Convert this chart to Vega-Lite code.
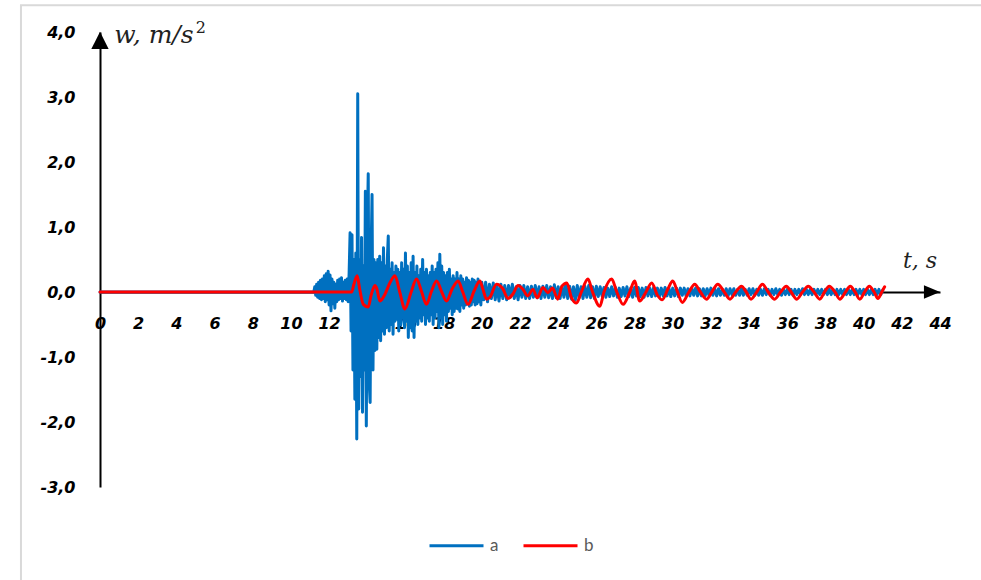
{
"$schema": "https://vega.github.io/schema/vega-lite/v6.json",
"width": 840, "height": 455,
"autosize": {"type": "none"},
"padding": {"left": 100, "top": 32, "right": 41, "bottom": 93},
"background": "white",
"config": {"view": {"stroke": null},
 "axis": {"grid": false, "ticks": false, "tickSize": 0, "labelFlush": false, "labelFont": "DejaVu Sans", "labelFontSize": 16, "labelFontWeight": "bold", "labelFontStyle": "italic", "labelColor": "#000000", "domainColor": "#000000", "domainWidth": 2}},
"data": {"values": [{}]},
"datasets": {
"a": [
{"t":0,"w":0},{"t":11.2,"w":0},{"t":11.25,"w":0.08},{"t":11.3,"w":-0.05},{"t":11.35,"w":0.12},{"t":11.4,"w":-0.08},{"t":11.45,"w":0.15},{"t":11.5,"w":-0.1},{"t":11.55,"w":0.18},{"t":11.6,"w":-0.12},{"t":11.65,"w":0.2},{"t":11.7,"w":-0.1},{"t":11.75,"w":0.25},{"t":11.8,"w":-0.15},{"t":11.85,"w":0.28},{"t":11.9,"w":-0.12},{"t":11.95,"w":0.32},{"t":12.0,"w":-0.2},{"t":12.05,"w":0.26},{"t":12.1,"w":-0.29},{"t":12.15,"w":0.2},{"t":12.2,"w":-0.18},{"t":12.25,"w":0.15},{"t":12.3,"w":-0.25},{"t":12.35,"w":0.12},{"t":12.4,"w":-0.15},{"t":12.45,"w":0.18},{"t":12.5,"w":-0.12},{"t":12.55,"w":0.2},{"t":12.6,"w":-0.1},{"t":12.65,"w":0.22},{"t":12.7,"w":-0.14},{"t":12.75,"w":0.15},{"t":12.8,"w":-0.1},{"t":12.85,"w":0.18},{"t":12.9,"w":-0.12},{"t":12.95,"w":0.2},{"t":13.0,"w":-0.15},{"t":13.05,"w":0.3},
{"t":13.1,"w":0.91},{"t":13.15,"w":-0.6},{"t":13.2,"w":0.88},{"t":13.25,"w":-1.2},{"t":13.3,"w":0.5},{"t":13.35,"w":-1.65},{"t":13.4,"w":0.6},{"t":13.45,"w":-2.26},{"t":13.5,"w":3.05},{"t":13.55,"w":-1.8},{"t":13.6,"w":0.5},{"t":13.65,"w":-1.3},{"t":13.7,"w":0.84},{"t":13.75,"w":-1.85},{"t":13.8,"w":0.4},{"t":13.85,"w":-1.2},{"t":13.9,"w":1.55},{"t":13.95,"w":-2.06},{"t":14.0,"w":0.9},{"t":14.05,"w":1.82},{"t":14.1,"w":-1.4},{"t":14.15,"w":-1.7},{"t":14.2,"w":0.6},{"t":14.25,"w":1.5},{"t":14.3,"w":-1.2},{"t":14.35,"w":0.5},{"t":14.4,"w":-0.9},{"t":14.45,"w":0.45},{"t":14.5,"w":-0.88},{"t":14.55,"w":0.5},{"t":14.6,"w":-0.7},{"t":14.65,"w":0.55},{"t":14.7,"w":-0.75},{"t":14.75,"w":0.45},{"t":14.8,"w":-0.6},{"t":14.85,"w":0.68},{"t":14.9,"w":-0.65},{"t":14.95,"w":0.4},{"t":15.0,"w":-0.55},{"t":15.05,"w":0.5},{"t":15.1,"w":0.86},{"t":15.15,"w":-0.6},{"t":15.2,"w":0.35},{"t":15.25,"w":-0.5},{"t":15.3,"w":0.45},{"t":15.35,"w":-0.65},{"t":15.4,"w":0.3},{"t":15.45,"w":-0.45},{"t":15.5,"w":0.4},{"t":15.55,"w":-0.42},{"t":15.6,"w":0.35},{"t":15.65,"w":-0.6},{"t":15.7,"w":0.3},{"t":15.75,"w":-0.5},{"t":15.8,"w":0.45},{"t":15.85,"w":-0.4},{"t":15.9,"w":0.35},{"t":15.95,"w":-0.55},{"t":16.0,"w":0.6},{"t":16.05,"w":-0.45},{"t":16.1,"w":0.4},{"t":16.15,"w":-0.7},{"t":16.2,"w":0.3},{"t":16.25,"w":-0.55},{"t":16.3,"w":0.45},{"t":16.35,"w":-0.6},{"t":16.4,"w":0.55},{"t":16.45,"w":-0.7},{"t":16.5,"w":0.3},{"t":16.55,"w":-0.45},{"t":16.6,"w":0.4},{"t":16.65,"w":-0.5},{"t":16.7,"w":0.25},{"t":16.75,"w":-0.4},{"t":16.8,"w":0.35},{"t":16.85,"w":-0.45},{"t":16.9,"w":0.5},{"t":16.95,"w":-0.35},{"t":17.0,"w":0.3},{"t":17.05,"w":-0.5},{"t":17.1,"w":0.35},{"t":17.15,"w":-0.4},{"t":17.2,"w":0.25},{"t":17.25,"w":-0.45},{"t":17.3,"w":0.3},{"t":17.35,"w":-0.35},{"t":17.4,"w":0.4},{"t":17.45,"w":-0.5},{"t":17.5,"w":0.3},{"t":17.55,"w":-0.4},{"t":17.6,"w":0.35},{"t":17.65,"w":-0.3},{"t":17.7,"w":0.45},{"t":17.75,"w":-0.55},{"t":17.8,"w":0.58},{"t":17.85,"w":-0.4},{"t":17.9,"w":0.4},{"t":17.95,"w":-0.5},{"t":18.0,"w":0.3},{"t":18.05,"w":-0.35},{"t":18.1,"w":0.25},{"t":18.15,"w":-0.45},{"t":18.2,"w":0.3},{"t":18.25,"w":-0.3},{"t":18.3,"w":0.35},{"t":18.35,"w":-0.25},{"t":18.4,"w":0.2},{"t":18.45,"w":-0.35},{"t":18.5,"w":0.25},{"t":18.55,"w":-0.3},{"t":18.6,"w":0.2},{"t":18.65,"w":-0.25},{"t":18.7,"w":0.3},{"t":18.75,"w":-0.26},{"t":18.8,"w":0.2},{"t":18.85,"w":-0.3},{"t":18.9,"w":0.25},{"t":18.95,"w":-0.2},{"t":19.0,"w":0.2},{"t":19.05,"w":-0.25},{"t":19.1,"w":0.15},{"t":19.15,"w":-0.2},{"t":19.2,"w":0.22},{"t":19.25,"w":-0.18},{"t":19.3,"w":0.18},{"t":19.35,"w":-0.22},{"t":19.4,"w":0.15},{"t":19.45,"w":-0.2},{"t":19.5,"w":0.2},{"t":19.55,"w":-0.15},{"t":19.6,"w":0.18},{"t":19.65,"w":-0.2},{"t":19.7,"w":0.15},{"t":19.75,"w":-0.18},{"t":19.8,"w":0.2},{"t":19.85,"w":-0.15},{"t":19.9,"w":0.12},{"t":19.95,"w":-0.2},{"t":20.0,"w":0.15},
{"t":20.1,"w":-0.12},{"t":20.2,"w":0.15},{"t":20.3,"w":-0.15},{"t":20.4,"w":0.12},{"t":20.5,"w":-0.1},{"t":20.6,"w":0.14},{"t":20.7,"w":-0.12},{"t":20.8,"w":0.1},{"t":20.9,"w":-0.14},{"t":21.0,"w":0.12},{"t":21.1,"w":-0.1},{"t":21.2,"w":0.1},{"t":21.3,"w":-0.12},{"t":21.4,"w":0.1},{"t":21.5,"w":-0.08},{"t":21.6,"w":0.12},{"t":21.7,"w":-0.1},{"t":21.8,"w":0.08},{"t":21.9,"w":-0.12},{"t":22.0,"w":0.1},{"t":22.1,"w":-0.08},{"t":22.2,"w":0.1},{"t":22.3,"w":-0.1},{"t":22.4,"w":0.08},{"t":22.5,"w":-0.1},{"t":22.6,"w":0.09},{"t":22.7,"w":-0.08},{"t":22.8,"w":0.1},{"t":22.9,"w":-0.09},{"t":23.0,"w":0.08},{"t":23.1,"w":-0.1},{"t":23.2,"w":0.09},{"t":23.3,"w":-0.08},{"t":23.4,"w":0.1},{"t":23.5,"w":-0.09},{"t":23.6,"w":0.08},{"t":23.7,"w":-0.1},{"t":23.8,"w":0.11},{"t":23.9,"w":-0.09},{"t":24.0,"w":0.08},{"t":24.1,"w":-0.1},{"t":24.2,"w":0.09},{"t":24.3,"w":-0.08},{"t":24.4,"w":0.12},{"t":24.5,"w":-0.1},{"t":24.6,"w":0.09},{"t":24.7,"w":-0.11},{"t":24.8,"w":0.08},{"t":24.9,"w":-0.12},{"t":25.0,"w":0.1},{"t":25.1,"w":-0.09},{"t":25.2,"w":0.08},{"t":25.3,"w":-0.1},{"t":25.4,"w":0.09},{"t":25.5,"w":-0.08},{"t":25.6,"w":0.1},{"t":25.7,"w":-0.09},{"t":25.8,"w":0.08},{"t":25.9,"w":-0.1},{"t":26.0,"w":0.09},
{"t":26.1,"w":-0.07},{"t":26.2,"w":0.08},{"t":26.3,"w":-0.06},{"t":26.4,"w":0.07},{"t":26.5,"w":-0.08},{"t":26.6,"w":0.06},{"t":26.7,"w":-0.07},{"t":26.8,"w":0.08},{"t":26.9,"w":-0.06},{"t":27.0,"w":0.07},{"t":27.1,"w":-0.08},{"t":27.2,"w":0.06},{"t":27.3,"w":-0.07},{"t":27.4,"w":0.07},{"t":27.5,"w":-0.06},{"t":27.6,"w":0.08},{"t":27.7,"w":-0.07},{"t":27.8,"w":0.06},{"t":27.9,"w":-0.08},{"t":28.0,"w":0.07},{"t":28.1,"w":-0.06},{"t":28.2,"w":0.07},{"t":28.3,"w":-0.07},{"t":28.4,"w":0.06},{"t":28.5,"w":-0.08},{"t":28.6,"w":0.07},{"t":28.7,"w":-0.06},{"t":28.8,"w":0.06},{"t":28.9,"w":-0.07},{"t":29.0,"w":0.07},{"t":29.1,"w":-0.06},{"t":29.2,"w":0.06},{"t":29.3,"w":-0.07},{"t":29.4,"w":0.06},{"t":29.5,"w":-0.06},{"t":29.6,"w":0.07},{"t":29.7,"w":-0.06},{"t":29.8,"w":0.06},{"t":29.9,"w":-0.07},{"t":30.0,"w":0.06},{"t":30.1,"w":-0.06},{"t":30.2,"w":0.06},{"t":30.3,"w":-0.07},{"t":30.4,"w":0.06},{"t":30.5,"w":-0.05},{"t":30.6,"w":0.06},{"t":30.7,"w":-0.06},{"t":30.8,"w":0.05},{"t":30.9,"w":-0.06},{"t":31.0,"w":0.06},{"t":31.1,"w":-0.05},{"t":31.2,"w":0.06},{"t":31.3,"w":-0.06},{"t":31.4,"w":0.05},{"t":31.5,"w":-0.06},{"t":31.6,"w":0.05},{"t":31.7,"w":-0.06},{"t":31.8,"w":0.05},{"t":31.9,"w":-0.05},{"t":32.0,"w":0.06},
{"t":32.1,"w":-0.05},{"t":32.2,"w":0.05},{"t":32.3,"w":-0.06},{"t":32.4,"w":0.05},{"t":32.5,"w":-0.05},{"t":32.6,"w":0.04},{"t":32.7,"w":-0.05},{"t":32.8,"w":0.05},{"t":32.9,"w":-0.06},{"t":33.0,"w":0.05},{"t":33.1,"w":-0.04},{"t":33.2,"w":0.05},{"t":33.3,"w":-0.05},{"t":33.4,"w":0.04},{"t":33.5,"w":-0.05},{"t":33.6,"w":0.05},{"t":33.7,"w":-0.05},{"t":33.8,"w":0.04},{"t":33.9,"w":-0.05},{"t":34.0,"w":0.05},{"t":34.1,"w":-0.04},{"t":34.2,"w":0.05},{"t":34.3,"w":-0.05},{"t":34.4,"w":0.04},{"t":34.5,"w":-0.05},{"t":34.6,"w":0.04},{"t":34.7,"w":-0.05},{"t":34.8,"w":0.05},{"t":34.9,"w":-0.04},{"t":35.0,"w":0.04},{"t":35.1,"w":-0.05},{"t":35.2,"w":0.04},{"t":35.3,"w":-0.04},{"t":35.4,"w":0.05},{"t":35.5,"w":-0.04},{"t":35.6,"w":0.04},{"t":35.7,"w":-0.05},{"t":35.8,"w":0.04},{"t":35.9,"w":-0.04},{"t":36.0,"w":0.04},{"t":36.1,"w":-0.04},{"t":36.2,"w":0.04},{"t":36.3,"w":-0.05},{"t":36.4,"w":0.04},{"t":36.5,"w":-0.04},{"t":36.6,"w":0.04},{"t":36.7,"w":-0.04},{"t":36.8,"w":0.05},{"t":36.9,"w":-0.04},{"t":37.0,"w":0.04},{"t":37.1,"w":-0.04},{"t":37.2,"w":0.04},{"t":37.3,"w":-0.04},{"t":37.4,"w":0.04},{"t":37.5,"w":-0.04},{"t":37.6,"w":0.04},{"t":37.7,"w":-0.04},{"t":37.8,"w":0.04},{"t":37.9,"w":-0.04},{"t":38.0,"w":0.04},{"t":38.1,"w":-0.04},{"t":38.2,"w":0.04},{"t":38.3,"w":-0.04},{"t":38.4,"w":0.04},{"t":38.5,"w":-0.04},{"t":38.6,"w":0.04},{"t":38.7,"w":-0.04},{"t":38.8,"w":0.04},{"t":38.9,"w":-0.04},{"t":39.0,"w":0.04},{"t":39.1,"w":-0.04},{"t":39.2,"w":0.04},{"t":39.3,"w":-0.04},{"t":39.4,"w":0.04},{"t":39.5,"w":-0.04},{"t":39.6,"w":0.04},{"t":39.7,"w":-0.04},{"t":39.8,"w":0.04},{"t":39.9,"w":-0.04},{"t":40.0,"w":0.04},{"t":40.1,"w":-0.04},{"t":40.2,"w":0.04},{"t":40.3,"w":-0.04},{"t":40.4,"w":0.04},{"t":40.5,"w":-0.04},{"t":40.6,"w":0.04},{"t":40.7,"w":-0.04},{"t":40.8,"w":0.04},{"t":40.9,"w":-0.04},{"t":41.0,"w":0.03}
],
"b": [
{"t":0,"w":0},{"t":13.18,"w":0},{"t":13.3,"w":0.12},{"t":13.47,"w":0.25},{"t":13.6,"w":0.05},{"t":13.79,"w":-0.19},{"t":14.05,"w":-0.23},{"t":14.2,"w":-0.05},{"t":14.4,"w":0.1},{"t":14.5,"w":0.05},{"t":14.66,"w":-0.14},{"t":14.9,"w":-0.05},{"t":15.2,"w":0.15},{"t":15.45,"w":0.25},{"t":15.7,"w":0.0},{"t":15.97,"w":-0.26},{"t":16.3,"w":0.0},{"t":16.58,"w":0.2},{"t":16.85,"w":0.0},{"t":17.1,"w":-0.19},{"t":17.35,"w":0.0},{"t":17.63,"w":0.17},{"t":17.9,"w":0.0},{"t":18.15,"w":-0.14},{"t":18.45,"w":0.05},{"t":18.76,"w":0.17},{"t":19.0,"w":0.0},{"t":19.28,"w":-0.19},{"t":19.6,"w":0.02},{"t":19.9,"w":0.17},{"t":20.05,"w":0.05},{"t":20.25,"w":-0.11},{"t":20.42,"w":-0.08},{"t":20.77,"w":0.12},{"t":21.1,"w":0.05},{"t":21.37,"w":-0.1},{"t":21.63,"w":-0.03},{"t":21.9,"w":0.1},{"t":22.16,"w":0.04},{"t":22.4,"w":-0.06},{"t":22.68,"w":0.04},{"t":22.9,"w":-0.09},{"t":23.2,"w":0.07},{"t":23.46,"w":-0.01},{"t":23.7,"w":0.06},{"t":23.98,"w":-0.11},{"t":24.2,"w":0.09},{"t":24.45,"w":0.14},{"t":24.7,"w":-0.09},{"t":24.96,"w":-0.17},{"t":25.2,"w":-0.01},{"t":25.56,"w":0.2},{"t":25.8,"w":0.0},{"t":26.18,"w":-0.22},{"t":26.4,"w":0.0},{"t":26.8,"w":0.2},{"t":27.07,"w":0.0},{"t":27.4,"w":-0.19},{"t":27.75,"w":0.0},{"t":28.0,"w":0.17},{"t":28.27,"w":-0.14},{"t":28.6,"w":0.0},{"t":28.9,"w":0.14},{"t":29.2,"w":-0.05},{"t":29.45,"w":-0.12},{"t":29.75,"w":0.05},{"t":30.0,"w":0.17},{"t":30.25,"w":0.0},{"t":30.5,"w":-0.16},{"t":30.85,"w":0.0},{"t":31.15,"w":0.12},{"t":31.45,"w":0.0},{"t":31.77,"w":-0.11},{"t":32.05,"w":0.0},{"t":32.36,"w":0.12},{"t":32.7,"w":0.0},{"t":33.0,"w":-0.11},{"t":33.3,"w":0.0},{"t":33.6,"w":0.09},{"t":33.85,"w":0.0},{"t":34.1,"w":-0.11},{"t":34.4,"w":0.0},{"t":34.7,"w":0.12},{"t":35.0,"w":0.0},{"t":35.34,"w":-0.11},{"t":35.65,"w":0.0},{"t":35.95,"w":0.09},{"t":36.2,"w":0.0},{"t":36.5,"w":-0.11},{"t":36.8,"w":0.0},{"t":37.1,"w":0.09},{"t":37.4,"w":0.0},{"t":37.7,"w":-0.11},{"t":37.95,"w":0.0},{"t":38.2,"w":0.09},{"t":38.5,"w":0.0},{"t":38.75,"w":-0.11},{"t":39.05,"w":0.0},{"t":39.3,"w":0.09},{"t":39.55,"w":0.0},{"t":39.8,"w":-0.11},{"t":40.05,"w":0.0},{"t":40.3,"w":0.09},{"t":40.55,"w":0.0},{"t":40.75,"w":-0.1},{"t":40.95,"w":0.0},{"t":41.1,"w":0.08}
]
},
"layer": [
{"data": {"name": "a"},
 "mark": {"type": "line", "strokeWidth": 3, "strokeJoin": "round", "strokeCap": "round"},
 "encoding": {
  "x": {"field": "t", "type": "quantitative", "scale": {"domain": [0, 44], "nice": false, "zero": false},
   "axis": {"orient": "bottom", "offset": -195, "values": [0,2,4,6,8,10,12,14,16,18,20,22,24,26,28,30,32,34,36,38,40,42,44], "tickCount": 50, "title": null, "labelPadding": 23, "labelOverlap": false, "labelBound": false}},
  "y": {"field": "w", "type": "quantitative", "scale": {"domain": [-3, 4], "nice": false, "zero": false},
   "axis": {"values": [-3,-2,-1,0,1,2,3,4], "tickCount": 20, "title": null, "labelPadding": 25, "labelExpr": "(datum.value < 0 ? '-' : '') + replace(format(abs(datum.value), '.1f'), '.', ',')"}},
  "color": {"datum": "a", "type": "nominal", "scale": {"domain": ["a", "b"], "range": ["#0070C0", "#FF0000"]},
   "legend": {"orient": "none", "legendX": 328, "legendY": 485, "direction": "horizontal", "title": null, "symbolType": "stroke", "symbolSize": 2916, "symbolStrokeWidth": 3, "labelFont": "Lato", "labelFontSize": 17, "labelColor": "#595959", "labelOffset": 5, "columnPadding": 18}}
 }},
{"data": {"name": "b"},
 "mark": {"type": "line", "strokeWidth": 3, "strokeJoin": "round", "strokeCap": "round", "interpolate": "monotone"},
 "encoding": {
  "x": {"field": "t", "type": "quantitative"},
  "y": {"field": "w", "type": "quantitative"},
  "color": {"datum": "b", "type": "nominal"}
 }},
{"mark": {"type": "rect", "fill": "transparent", "fillOpacity": 0, "stroke": "#d9d9d9", "strokeWidth": 2},
 "encoding": {"x": {"datum": -4.14, "type": "quantitative"}, "x2": {"datum": 46.3}, "y": {"datum": 4.41, "type": "quantitative"}, "y2": {"datum": -4.6}}},
{"mark": {"type": "point", "shape": "M0,-1L-1,1L1,1Z", "filled": true, "color": "#000000", "opacity": 1, "size": 300},
 "encoding": {"x": {"datum": 0, "type": "quantitative"}, "y": {"datum": 3.87, "type": "quantitative"}}},
{"mark": {"type": "point", "shape": "M1,0L-1,-0.85L-1,0.85Z", "filled": true, "color": "#000000", "opacity": 1, "size": 260},
 "encoding": {"x": {"datum": 43.58, "type": "quantitative"}, "y": {"datum": 0, "type": "quantitative"}}},
{"mark": {"type": "text", "text": "w, m/s", "font": "DejaVu Serif", "fontStyle": "italic", "fontSize": 25, "align": "left", "baseline": "alphabetic", "color": "#222222"},
 "encoding": {"x": {"datum": 0.75, "type": "quantitative"}, "y": {"datum": 3.83, "type": "quantitative"}}},
{"mark": {"type": "text", "text": "2", "font": "DejaVu Serif", "fontSize": 16, "align": "left", "baseline": "alphabetic", "color": "#222222"},
 "encoding": {"x": {"datum": 5.02, "type": "quantitative"}, "y": {"datum": 3.98, "type": "quantitative"}}},
{"mark": {"type": "text", "text": "t, s", "font": "DejaVu Serif", "fontStyle": "italic", "fontSize": 22, "align": "left", "baseline": "alphabetic", "color": "#222222"},
 "encoding": {"x": {"datum": 42.06, "type": "quantitative"}, "y": {"datum": 0.365, "type": "quantitative"}}}
]
}
